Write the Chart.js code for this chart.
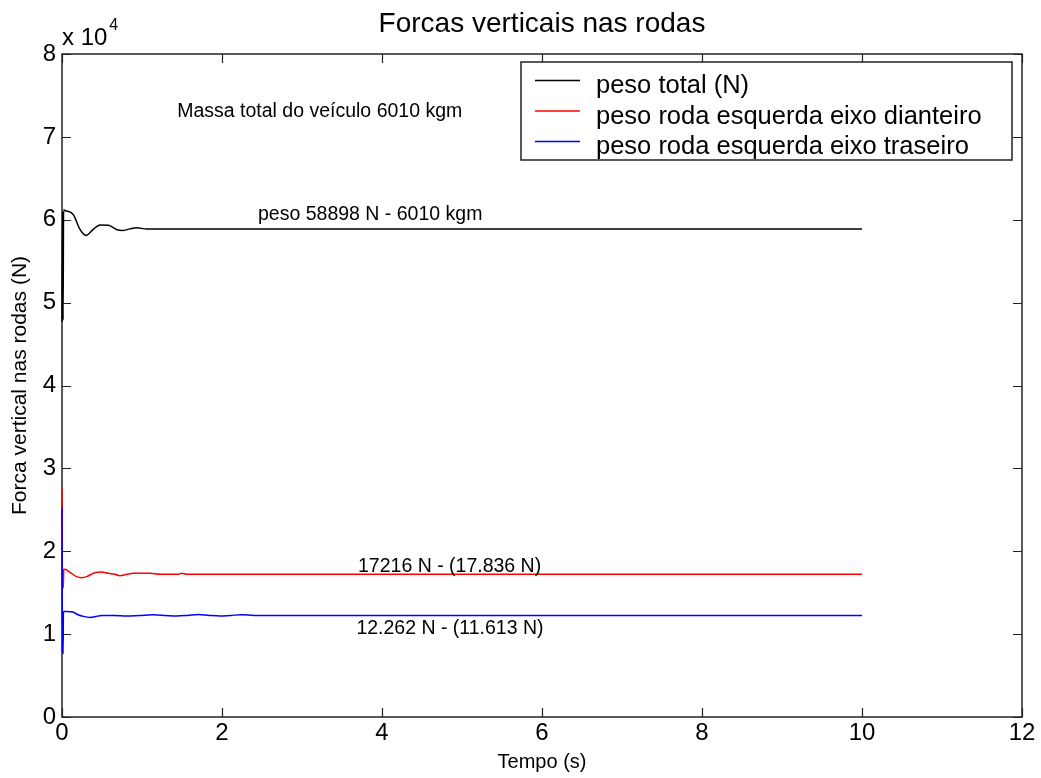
<!DOCTYPE html>
<html>
<head>
<meta charset="utf-8">
<script src="https://cdn.jsdelivr.net/npm/chart.js@4.4.1/dist/chart.umd.min.js"></script>
<style>
  html, body { margin: 0; padding: 0; background: #fff; }
  #wrap { width: 1041px; height: 778px; }
</style>
</head>
<body>
<div id="wrap"><canvas id="c" width="1041" height="778"></canvas></div>
<script>
// Simulação: forças verticais nas rodas (N) ao longo do tempo (s)
const tituloGrafico = 'Forcas verticais nas rodas';
const tituloX = 'Tempo (s)';
const tituloY = 'Forca vertical nas rodas (N)';
const rotulosSeries = ['peso total (N)', 'peso roda esquerda eixo dianteiro', 'peso roda esquerda eixo traseiro'];
const coresSeries = ['#000000', '#ff0000', '#0000ff'];

const tempoTotal = [0, 0.008, 0.013, 0.02, 0.0375, 0.14, 0.225, 0.3, 0.39, 0.475, 0.58, 0.68, 0.75, 0.85, 0.93, 1.06, 10];
const pesoTotal  = [47700, 61000, 47900, 61200, 61115, 60630, 58830, 58100, 58830, 59380, 59340, 58830, 58700, 58898, 59020, 58898, 58898];

const tempoDianteiro = [0, 0.006, 0.012, 0.016, 0.022, 0.0375, 0.1, 0.183, 0.246, 0.308, 0.392, 0.496, 0.579, 0.6625, 0.725, 0.808, 0.89, 1.1, 1.225, 1.45, 1.496, 1.56, 10];
const pesoDianteiro  = [27600, 15400, 17800, 15600, 17800, 17820, 17460, 16935, 16815, 16935, 17336, 17497, 17336, 17216, 17055, 17216, 17336, 17336, 17216, 17216, 17336, 17216, 17216];

const tempoTraseiro = [0, 0.005, 0.009, 0.013, 0.018, 0.06, 0.1375, 0.2, 0.267, 0.35, 0.41, 0.5, 0.65, 0.81, 0.97, 1.14, 1.29, 1.43, 1.57, 1.7, 1.84, 1.975, 2.11, 2.25, 2.4, 10];
const pesoTraseiro  = [25300, 7800, 12700, 7600, 12740, 12740, 12660, 12340, 12140, 12020, 12100, 12262, 12262, 12180, 12262, 12340, 12262, 12180, 12262, 12380, 12262, 12180, 12262, 12340, 12262, 12262];

const ticksX = [0, 2, 4, 6, 8, 10, 12];
const ticksY = [0, 1, 2, 3, 4, 5, 6, 7, 8];   // x 10^4
const escalaY = 1e4;

// Anotações: [texto, tempo (s), valor de referência (N), deslocamento vertical em px]
const anotacoes = [
  ['Massa total do veículo 6010 kgm', 1.44, 72400, 0],
  ['peso 58898 N - 6010 kgm', 2.45, 58898, -9],
  ['17216 N - (17.836 N)', 3.7, 17216, -2],
  ['12.262 N - (11.613 N)', 3.68, 12262, 19]
];

const FONTE = "'Liberation Sans', Arial, Helvetica, sans-serif";

function pontos(ts, vs) { return ts.map((t, i) => ({ x: t, y: vs[i] })); }

const seriesDados = [pontos(tempoTotal, pesoTotal), pontos(tempoDianteiro, pesoDianteiro), pontos(tempoTraseiro, pesoTraseiro)];

const eixosMatlab = {
  id: 'eixosMatlab',
  beforeDatasetsDraw(chart) {
    const { ctx, chartArea: a, scales: { x, y } } = chart;
    ctx.save();
    ctx.strokeStyle = '#222';
    ctx.lineWidth = 1.5;
    ctx.strokeRect(a.left, a.top, a.right - a.left, a.bottom - a.top);
    const L = 9;
    ctx.beginPath();
    ticksX.forEach(v => {
      const px = Math.round(x.getPixelForValue(v)) + 0.5;
      ctx.moveTo(px, a.bottom); ctx.lineTo(px, a.bottom - L);
      ctx.moveTo(px, a.top); ctx.lineTo(px, a.top + L);
    });
    ticksY.forEach(v => {
      const py = Math.round(y.getPixelForValue(v * escalaY)) + 0.5;
      ctx.moveTo(a.left, py); ctx.lineTo(a.left + L, py);
      ctx.moveTo(a.right, py); ctx.lineTo(a.right - L, py);
    });
    ctx.lineWidth = 1.2;
    ctx.stroke();
    ctx.restore();
  },
  afterDatasetsDraw(chart) {
    const { ctx, chartArea: a, scales: { x, y } } = chart;
    ctx.save();
    ctx.fillStyle = '#000';
    ctx.textBaseline = 'alphabetic';

    // título
    ctx.font = '28px ' + FONTE;
    ctx.textAlign = 'center';
    ctx.fillText(tituloGrafico, (a.left + a.right) / 2, 32);

    // multiplicador do eixo y
    ctx.textAlign = 'left';
    ctx.font = '24px ' + FONTE;
    ctx.fillText('x 10', a.left, 45);
    const w = ctx.measureText('x 10').width;
    ctx.font = '16px ' + FONTE;
    ctx.fillText('4', a.left + w + 2, 30);

    // anotações
    ctx.font = '19.5px ' + FONTE;
    anotacoes.forEach(([txt, t, v, dy]) => {
      ctx.fillText(txt, x.getPixelForValue(t), y.getPixelForValue(v) + dy);
    });

    // legenda
    const lx = 521, ly = 62, lw = 491, lh = 98;
    ctx.fillStyle = '#fff';
    ctx.fillRect(lx, ly, lw, lh);
    ctx.strokeStyle = '#222';
    ctx.lineWidth = 1.5;
    ctx.strokeRect(lx, ly, lw, lh);
    ctx.font = '25.5px ' + FONTE;
    chart.data.datasets.forEach((ds, i) => {
      const ry = 80.5 + i * 30.5;
      ctx.strokeStyle = ds.borderColor;
      ctx.lineWidth = 1.5;
      ctx.beginPath();
      ctx.moveTo(535, ry); ctx.lineTo(580, ry);
      ctx.stroke();
      ctx.fillStyle = '#000';
      ctx.fillText(ds.label, 596, ry + 12.6);
    });
    ctx.restore();
  }
};

new Chart(document.getElementById('c'), {
  type: 'line',
  data: {
    datasets: seriesDados.map((d, i) => ({
      label: rotulosSeries[i],
      data: d,
      borderColor: coresSeries[i],
      backgroundColor: coresSeries[i],
      borderWidth: 1.5,
      pointRadius: 0,
      fill: false,
      cubicInterpolationMode: 'monotone',
      clip: 4,
      order: 3 - i
    }))
  },
  options: {
    responsive: false,
    animation: false,
    devicePixelRatio: 1,
    layout: { padding: { top: 54, right: 19, left: 0, bottom: 0 } },
    plugins: { legend: { display: false }, title: { display: false }, tooltip: { enabled: false } },
    scales: {
      x: {
        type: 'linear', min: 0, max: 12,
        afterFit(s) { s.height = 61; },
        afterBuildTicks(s) { s.ticks = ticksX.map(v => ({ value: v })); },
        grid: { display: false, drawTicks: false },
        border: { display: false },
        ticks: { color: '#000', padding: 2, font: { family: FONTE, size: 24 }, maxRotation: 0 },
        title: { display: true, text: tituloX, color: '#000', font: { family: FONTE, size: 20 }, padding: { bottom: 4, top: 0 } }
      },
      y: {
        type: 'linear', min: 0, max: 8 * escalaY,
        afterFit(s) { s.width = 62; },
        afterBuildTicks(s) { s.ticks = ticksY.map(v => ({ value: v * escalaY })); },
        grid: { display: false, drawTicks: false },
        border: { display: false },
        ticks: { color: '#000', padding: 6, font: { family: FONTE, size: 24 }, callback: v => String(v / escalaY) },
        title: { display: true, text: tituloY, color: '#000', font: { family: FONTE, size: 21 }, padding: { top: 8, bottom: 0 } }
      }
    }
  },
  plugins: [eixosMatlab]
});
</script>
</body>
</html>
